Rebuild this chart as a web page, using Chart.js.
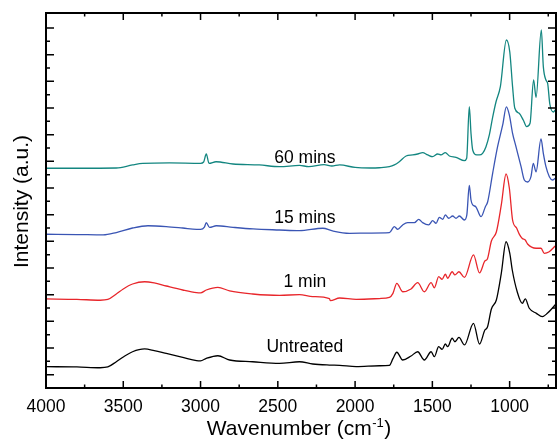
<!DOCTYPE html>
<html><head><meta charset="utf-8">
<script src="https://cdn.jsdelivr.net/npm/chart.js@4.4.1/dist/chart.umd.min.js"></script>
<style>html,body{margin:0;padding:0;background:#fff;}canvas{display:block;}</style>
</head><body>
<canvas id="c" width="557" height="439"></canvas>
<script>
// ---------------- data ----------------
const seriesNames = ['Untreated', '1 min', '15 mins', '60 mins'];
const xTickValues = [4000, 3500, 3000, 2500, 2000, 1500, 1000];
const xTitle = 'Wavenumber (cm';
const xTitleSup = '-1';
const yTitle = 'Intensity (a.u.)';

const untreatedWn = [4000,3800,3650,3600,3545,3500,3440,3362,3300,3222,3115,3026,3000,2963,2888,2812,2663,2489,2360,2274,2166,2100,1993,1843,1778,1755,1730,1692,1638,1595,1552,1508,1487,1459,1437,1416,1401,1372,1354,1328,1292,1234,1195,1160,1144,1118,1086,1054,1023,999,983,951,918,899,873,827,789,756,700];
const untreatedI  = [1.60,1.58,1.52,1.58,1.97,2.33,2.72,2.93,2.81,2.60,2.30,2.05,2.03,2.22,2.42,2.10,1.97,1.85,1.97,1.80,1.72,1.70,1.60,1.67,1.70,2.20,2.68,2.10,2.40,2.72,2.10,2.72,2.35,3.10,2.90,3.30,3.10,3.73,3.47,3.79,3.23,4.85,3.30,4.35,4.55,5.93,6.60,8.60,10.97,10.10,8.85,7.22,6.35,6.68,5.98,5.60,5.35,5.60,6.30];

const oneMinWn = [4000,3800,3650,3600,3545,3500,3440,3362,3300,3222,3115,3026,3000,2963,2888,2812,2663,2489,2360,2274,2166,2160,2100,1993,1843,1778,1755,1730,1692,1638,1595,1552,1508,1487,1459,1437,1416,1401,1372,1354,1328,1292,1234,1195,1160,1144,1118,1086,1054,1023,1002,981,955,935,918,899,884,829,797,776,744,705];
const oneMinI  = [6.68,6.65,6.58,6.64,7.05,7.43,7.80,7.97,7.88,7.65,7.35,7.15,7.13,7.35,7.55,7.28,7.05,6.94,7.01,6.86,6.71,6.55,6.75,6.65,6.71,6.80,7.10,7.85,7.22,7.43,7.90,7.22,7.90,7.52,8.35,8.15,8.53,8.23,8.72,8.48,8.72,8.30,9.98,8.63,9.53,9.68,11.03,11.70,13.73,16.05,15.00,12.60,12.00,11.48,11.21,11.10,10.80,10.48,10.48,10.10,10.22,10.65];

const fifteenMinWn = [4000,3800,3630,3545,3440,3340,3222,3115,3026,3000,2975,2963,2942,2898,2790,2660,2490,2360,2209,2146,2036,1900,1778,1746,1724,1692,1660,1616,1588,1563,1524,1498,1476,1455,1433,1416,1394,1369,1347,1325,1293,1277,1261,1250,1239,1219,1185,1157,1142,1110,1078,1045,1021,1002,981,959,926,905,884,862,847,829,797,782,765,743,723,705];
const fifteenMinI  = [11.53,11.51,11.48,11.66,12.00,12.17,12.11,12.00,11.90,11.90,12.07,12.40,12.05,12.17,12.05,11.93,11.85,11.80,11.98,11.78,11.60,11.62,11.65,12.10,11.90,12.23,12.40,12.40,12.65,12.40,12.23,12.55,12.35,12.80,12.65,12.98,12.73,12.90,12.73,12.90,12.60,12.98,15.20,14.10,13.73,13.60,12.85,13.60,13.97,16.10,18.10,19.73,21.08,20.48,19.10,18.10,16.60,15.60,15.45,15.85,16.85,16.22,18.68,17.60,16.60,15.85,15.60,15.73];

const sixtyMinWn = [4000,3800,3545,3440,3373,3200,3000,2980,2963,2945,2900,2790,2620,2489,2360,2300,2200,2150,2100,2000,1900,1843,1778,1746,1714,1670,1627,1595,1563,1530,1498,1466,1444,1416,1390,1347,1293,1278,1261,1250,1239,1213,1196,1175,1153,1131,1110,1088,1060,1021,999,981,967,938,912,890,868,845,829,795,782,765,754,740,717,702];
const sixtyMinI  = [16.48,16.48,16.50,16.73,16.84,16.88,16.85,16.95,17.55,16.85,16.97,16.80,16.73,16.60,16.69,16.61,16.76,16.65,16.73,16.54,16.50,16.52,16.60,16.73,16.97,17.40,17.48,17.55,17.65,17.48,17.35,17.55,17.48,17.65,17.40,17.30,17.05,17.23,21.10,19.10,17.85,17.48,17.48,17.60,18.10,19.00,20.30,21.47,22.60,26.10,25.20,22.60,21.00,20.60,20.10,19.60,19.85,23.10,21.80,26.85,24.10,23.10,22.85,21.30,20.70,20.90];

// ---------------- chart ----------------
const FONT = '"Liberation Sans", Arial, Helvetica, sans-serif';
const colors = ['#000000', '#e8262b', '#3a55b4', '#138680'];
const seriesWn = [untreatedWn, oneMinWn, fifteenMinWn, sixtyMinWn];
const seriesI = [untreatedI, oneMinI, fifteenMinI, sixtyMinI];

const datasets = seriesNames.map((name, k) => ({
  label: name,
  data: seriesWn[k].map((w, i) => ({ x: w, y: seriesI[k][i] })),
  borderColor: colors[k],
  borderWidth: 1.3,
  pointRadius: 0,
  fill: false,
  cubicInterpolationMode: 'monotone'
}));

const framePlugin = {
  id: 'frame',
  afterDraw(chart, args, opts) {
    const { ctx, chartArea: a, scales: { x, y } } = chart;
    ctx.save();
    ctx.strokeStyle = '#000';
    ctx.lineWidth = 1.5;
    ctx.beginPath();
    for (let v = 750; v < 4000; v += 250) {
      const px = x.getPixelForValue(v);
      const len = v % 500 === 0 ? 7 : 3.5;
      ctx.moveTo(px, a.bottom); ctx.lineTo(px, a.bottom - len);
      ctx.moveTo(px, a.top); ctx.lineTo(px, a.top + len);
    }
    for (let v = 1; v <= 27; v++) {
      const py = y.getPixelForValue(v);
      const len = v % 2 === 1 ? 8 : 4;
      ctx.moveTo(a.left, py); ctx.lineTo(a.left + len, py);
      ctx.moveTo(a.right, py); ctx.lineTo(a.right - len, py);
    }
    ctx.stroke();
    ctx.lineWidth = 2;
    ctx.strokeRect(a.left, a.top, a.right - a.left, a.bottom - a.top);

    // curve labels
    ctx.fillStyle = '#000';
    ctx.font = '17.5px ' + FONT;
    ctx.textAlign = 'center';
    ctx.textBaseline = 'alphabetic';
    const lx = x.getPixelForValue(opts.labelWn);
    seriesNames.forEach((t, k) => {
      ctx.fillText(t, lx, y.getPixelForValue(opts.labelY[k]));
    });

    // x title with superscript
    ctx.font = '21px ' + FONT;
    const w1 = ctx.measureText(xTitle).width;
    ctx.font = '13px ' + FONT;
    const w2 = ctx.measureText(xTitleSup).width;
    ctx.font = '21px ' + FONT;
    const w3 = ctx.measureText(')').width;
    const total = w1 + w2 + w3 + 1;
    let sx = (a.left + a.right) / 2 - total / 2 - 2;
    const by = 435;
    ctx.textAlign = 'left';
    ctx.fillText(xTitle, sx, by);
    ctx.font = '13px ' + FONT;
    ctx.fillText(xTitleSup, sx + w1 + 0.5, by - 8);
    ctx.font = '21px ' + FONT;
    ctx.fillText(')', sx + w1 + w2 + 1, by);

    // y title
    ctx.save();
    ctx.translate(28, (a.top + a.bottom) / 2 + 1);
    ctx.rotate(-Math.PI / 2);
    ctx.textAlign = 'center';
    ctx.fillText(yTitle, 0, 0);
    ctx.restore();
    ctx.restore();
  }
};

new Chart(document.getElementById('c'), {
  type: 'line',
  data: { datasets },
  options: {
    responsive: false,
    animation: false,
    devicePixelRatio: 1,
    layout: { padding: { left: 46, top: 13, right: 1, bottom: 0 } },
    plugins: {
      legend: { display: false },
      tooltip: { enabled: false },
      frame: { labelWn: 2325, labelY: [2.7, 7.6, 12.4, 16.9] }
    },
    scales: {
      x: {
        type: 'linear',
        reverse: true,
        min: 700,
        max: 4000,
        grid: { display: false, drawTicks: false },
        border: { display: false },
        afterBuildTicks: (s) => { s.ticks = xTickValues.map(v => ({ value: v })); },
        afterFit: (s) => { s.height = 51; },
        ticks: {
          autoSkip: false, maxRotation: 0, minRotation: 0,
          padding: 9,
          color: '#000',
          font: { family: FONT, size: 17.5 },
          callback: (v) => String(v)
        }
      },
      y: {
        display: false,
        min: 0,
        max: 28.125
      }
    }
  },
  plugins: [framePlugin]
});
</script>
</body></html>
